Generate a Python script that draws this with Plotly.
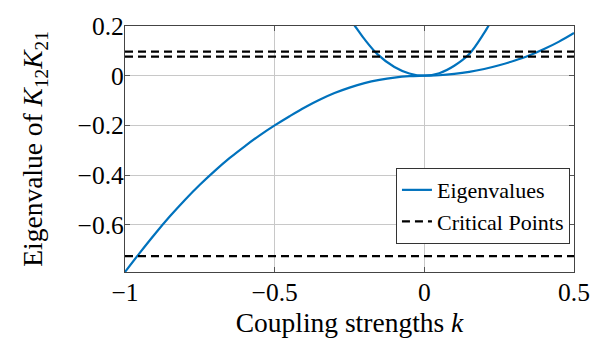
import plotly.graph_objects as go

# Lower eigenvalue branch
k_lower = [-1.0, -0.95, -0.9, -0.85, -0.8, -0.75, -0.7, -0.65, -0.6, -0.55, -0.5,
           -0.45, -0.4, -0.35, -0.3, -0.25, -0.2, -0.15, -0.1, -0.05, 0.0,
           0.05, 0.1, 0.15, 0.2, 0.25, 0.3, 0.35, 0.4, 0.45, 0.5]
ev_lower = [-0.790, -0.712, -0.637, -0.566, -0.500, -0.439, -0.383, -0.331, -0.284, -0.240, -0.200,
            -0.163, -0.128, -0.097, -0.070, -0.048, -0.030, -0.017, -0.0075, -0.0018, 0.0,
            0.0017, 0.007, 0.0152, 0.027, 0.042, 0.060, 0.081, 0.107, 0.137, 0.172]

# Upper (parabola-like) eigenvalue branch
k_upper = [-0.25, -0.232, -0.2, -0.157, -0.1, -0.05, 0.0, 0.05, 0.1, 0.15, 0.2, 0.214, 0.23]
ev_upper = [0.225, 0.2, 0.147, 0.087, 0.035, 0.009, 0.0, 0.01, 0.04, 0.087, 0.172, 0.2, 0.23]

# Critical points (horizontal dashed lines)
critical_values = [0.097, 0.077, -0.726]
k_span = [-1.0, 0.5]

x_ticks = [-1, -0.5, 0, 0.5]
x_tick_labels = ["\u22121", "\u22120.5", "0", "0.5"]
y_ticks = [-0.6, -0.4, -0.2, 0, 0.2]
y_tick_labels = ["\u22120.6", "\u22120.4", "\u22120.2", "0", "0.2"]

BLUE = "#0072BD"
FONT = "Liberation Serif"

fig = go.Figure()
fig.add_trace(go.Scatter(x=k_lower, y=ev_lower, mode="lines",
                         line=dict(color=BLUE, width=2.2, shape="spline"),
                         name="Eigenvalues"))
fig.add_trace(go.Scatter(x=k_upper, y=ev_upper, mode="lines",
                         line=dict(color=BLUE, width=2.2, shape="spline"),
                         name="Eigenvalues", showlegend=False))
for i, c in enumerate(critical_values):
    fig.add_trace(go.Scatter(x=k_span, y=[c, c], mode="lines",
                             line=dict(color="black", width=2.2, dash="8px,5px"),
                             name="Critical Points", showlegend=(i == 0)))

axis_common = dict(
    showgrid=True, gridcolor="#c8c8c8", gridwidth=1,
    showline=True, linecolor="#444444", linewidth=1.2, mirror="ticks",
    ticks="inside", ticklen=5, tickcolor="#555555",
    zeroline=False,
    tickfont=dict(family=FONT, size=25.5, color="black"),
)

fig.update_layout(
    width=602, height=346,
    margin=dict(l=125, r=25, t=21, b=74),
    paper_bgcolor="white", plot_bgcolor="white",
    font=dict(family=FONT, color="black"),
    xaxis=dict(range=[-1, 0.5], tickvals=x_ticks, ticktext=x_tick_labels,
               ticklabelstandoff=-3,
               title=dict(text="Coupling strengths <i>k</i>", font=dict(family=FONT, size=27.5), standoff=6),
               **axis_common),
    yaxis=dict(range=[-0.79, 0.2], tickvals=y_ticks, ticktext=y_tick_labels,
               ticklabelstandoff=-5,
               title=dict(text="Eigenvalue of <i>K</i><sub>12</sub><i>K</i><sub>21</sub>",
                          font=dict(family=FONT, size=27.5), standoff=26),
               **axis_common),
    legend=dict(x=0.991, y=0.4225, xanchor="right", yanchor="top",
                bgcolor="white", bordercolor="#333333", borderwidth=1,
                font=dict(family=FONT, size=22, color="black"),
                itemwidth=30, tracegroupgap=0),
    showlegend=True,
)

fig.write_html("out.html")
